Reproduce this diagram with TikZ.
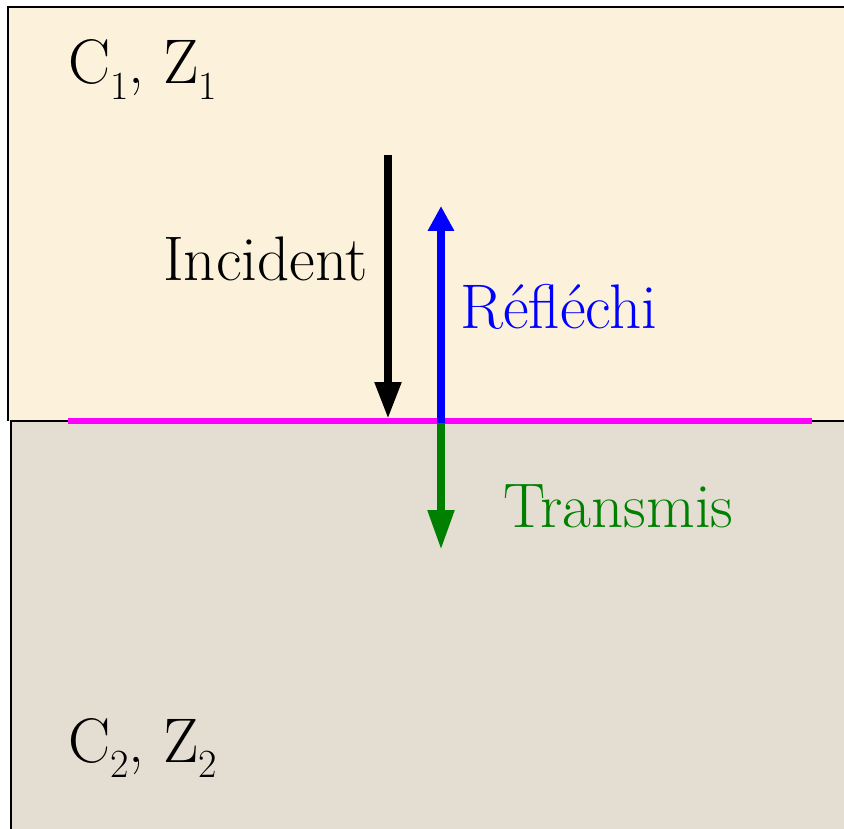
\documentclass[tikz,border=0pt]{standalone}
\usetikzlibrary{arrows.meta}
\definecolor{creamtop}{HTML}{FCF2DC}
\definecolor{sandbot}{HTML}{E4DDD1}
\definecolor{mag}{HTML}{FF00FF}
\definecolor{grn}{HTML}{008000}
\newcommand{\sbs}[1]{\raisebox{-0.25em}{\fontsize{40}{40}\selectfont #1}}
\tikzset{
  lbl/.style={inner sep=0pt, anchor=base west, font=\rmfamily\fontsize{63}{63}\selectfont},
  wave/.style={line width=8pt},
}
\begin{document}
\begin{tikzpicture}[x=1pt,y=-1pt]
\useasboundingbox (0,0) rectangle (844,829);
% media
\fill[white] (0,0) rectangle (844,829);
\fill[creamtop] (8,7) rectangle (850,421);
\draw[line width=2pt] (850,7) -- (8,7) -- (8,421);
\fill[sandbot] (11,421) rectangle (850,835);
\draw[line width=2pt] (850,421) -- (11,421) -- (11,835);
% interface
\coordinate (il) at (68,421);
\coordinate (ir) at (812,421);
\draw[mag, line width=6pt] (il) -- (ir);
% arrows
\coordinate (incA) at (388,155);
\coordinate (incB) at (388,419);
\coordinate (refA) at (441,423);
\coordinate (refB) at (441,206);
\coordinate (trA) at (441,423);
\coordinate (trB) at (441,550);
\draw[wave, black, -{Triangle[width=25pt,length=37pt]}] (incA) -- (incB);
\draw[wave, blue, -{Triangle[width=25pt,length=25pt]}] (refA) -- (refB);
\draw[wave, grn, -{Triangle[width=25pt,length=40pt]}] (trA) -- (trB);
% labels
\node[lbl] (m1) at (68,84) {C\sbs{1}, Z\sbs{1}};
\node[lbl] (m2) at (68,762) {C\sbs{2}, Z\sbs{2}};
\node[lbl] (inc) at (163,280) {Incident};
\node[lbl, text=blue] (ref) at (460,328) {R\'efl\'echi};
\node[lbl, text=grn] (tr) at (503,527) {Transmis};
\end{tikzpicture}
\end{document}
